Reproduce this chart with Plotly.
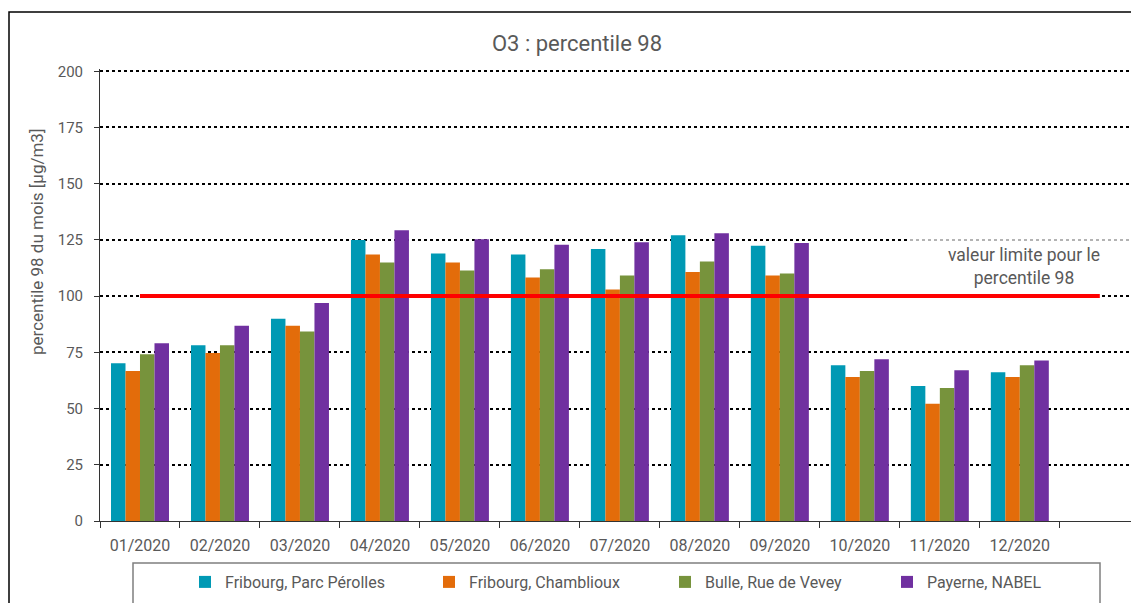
import plotly.graph_objects as go

months = ["01/2020", "02/2020", "03/2020", "04/2020", "05/2020", "06/2020",
          "07/2020", "08/2020", "09/2020", "10/2020", "11/2020", "12/2020"]
extra_cat = " "
categories = months + [extra_cat]

series_names = ["Fribourg, Parc Pérolles", "Fribourg, Chamblioux",
                "Bulle, Rue de Vevey", "Payerne, NABEL"]
perolles = [70.1, 78.1, 89.9, 125.0, 119.0, 118.5, 121.0, 127.1, 122.4, 69.3, 60.0, 66.2]
chamblioux = [66.7, 74.7, 86.8, 118.5, 115.0, 108.3, 103.0, 110.7, 109.2, 64.0, 52.1, 64.0]
bulle = [74.1, 78.1, 84.3, 115.0, 111.4, 111.9, 109.2, 115.4, 110.1, 66.7, 59.1, 69.3]
payerne = [79.0, 86.8, 96.9, 129.3, 125.3, 122.8, 124.0, 128.0, 123.6, 71.9, 67.0, 71.4]
colors = ["#0099B4", "#E36C0A", "#77933C", "#7030A0"]

limit_value = 100
limit_x = [months[0], extra_cat]

W, H = 1131, 603
L, T, B = 100, 69, 521
R = 1131
YMAX = 201


def px(x):
    return (x - L) / (R - L)


def py(y):
    return (B - y) / (B - T)


grey = "#595959"
font_family = "Roboto"

legend_keys = ["legend", "legend2", "legend3", "legend4"]
legend_text_x = [220, 464, 700, 922]

fig = go.Figure()
for name, vals, c, lk in zip(series_names, [perolles, chamblioux, bulle, payerne], colors, legend_keys):
    fig.add_trace(go.Bar(x=months, y=vals, name=name, legend=lk,
                         marker=dict(color=c, line=dict(width=0))))

fig.add_trace(go.Scatter(x=limit_x, y=[limit_value, limit_value], mode="lines",
                         line=dict(color="#FF0000", width=4), showlegend=False,
                         hoverinfo="skip"))

legend_layout = {}
for lk, tx in zip(legend_keys, legend_text_x):
    legend_layout[lk] = dict(orientation="h", x=px(tx - 35), xanchor="left",
                             y=py(582), yanchor="middle",
                             font=dict(size=16, color=grey, family=font_family),
                             bgcolor="rgba(0,0,0,0)", borderwidth=0)

fig.update_layout(
    width=W, height=H,
    margin=dict(l=L, r=W - R, t=T, b=H - B),
    paper_bgcolor="white", plot_bgcolor="white",
    barmode="group", bargap=0.275, bargroupgap=0,
    font=dict(family=font_family, color=grey, size=15),
    title=dict(text="O3 : percentile 98", x=px(577), xref="paper", xanchor="center",
               y=1 - 43 / H, yref="container", yanchor="middle",
               font=dict(size=22, color=grey, family=font_family)),
    xaxis=dict(type="category", categoryorder="array", categoryarray=categories,
               range=[-0.5, 12.39], tickson="boundaries", ticks="outside", ticklen=6,
               tickcolor="#333333", showline=True, linecolor="#333333", linewidth=1,
               showgrid=False, tickfont=dict(size=16, color=grey),
               ticklabelstandoff=10, fixedrange=True),
    yaxis=dict(range=[0, YMAX], dtick=25, ticks="outside", ticklen=5, tickcolor="#333333",
               showline=True, linecolor="#333333", linewidth=1,
               showgrid=True, gridcolor="black", griddash="dot", gridwidth=1.5,
               zeroline=False, tickfont=dict(size=15, color=grey),
               ticklabelstandoff=8, fixedrange=True),
    showlegend=True,
    **legend_layout,
)

# y-axis title
fig.add_annotation(text="percentile 98 du mois [µg/m3]", xref="paper", yref="paper",
                   x=px(37), y=py(242), textangle=-90, showarrow=False,
                   xanchor="center", yanchor="middle",
                   font=dict(size=17, color=grey, family=font_family))

# semi-transparent text box behind the annotation
fig.add_shape(type="rect", xref="paper", yref="paper",
              x0=px(907), x1=px(1145), y0=py(290), y1=py(237),
              fillcolor="rgba(255,255,255,0.7)", line=dict(width=0), layer="above")
fig.add_annotation(text="valeur limite pour le<br>percentile 98", xref="paper", yref="paper",
                   x=px(1024), y=py(266), showarrow=False, xanchor="center", yanchor="middle",
                   align="center", font=dict(size=17.5, color=grey, family=font_family))

# legend box
fig.add_shape(type="rect", xref="paper", yref="paper",
              x0=px(133), x1=px(1100), y0=py(625), y1=py(563),
              line=dict(color="#7F7F7F", width=1.5), fillcolor="rgba(0,0,0,0)", layer="below")

# outer chart border
fig.add_shape(type="rect", xref="paper", yref="paper",
              x0=px(9), x1=px(1145), y0=py(625), y1=py(12),
              line=dict(color="black", width=1.5), fillcolor="rgba(0,0,0,0)", layer="below")

fig.write_html("out.html")
